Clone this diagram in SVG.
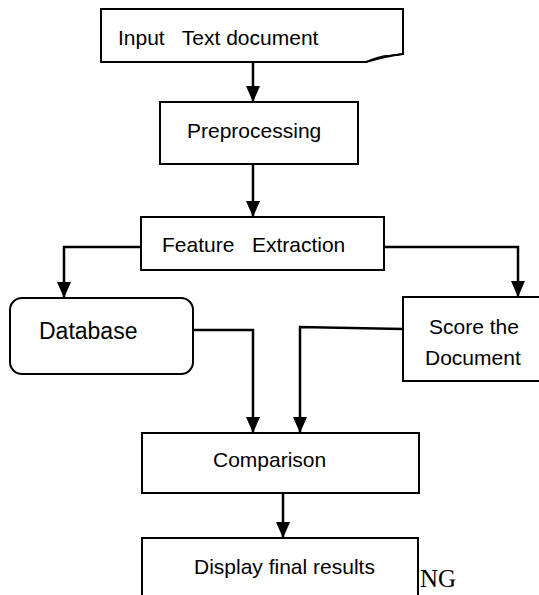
<svg xmlns="http://www.w3.org/2000/svg" width="539" height="595" viewBox="0 0 539 595">
<style>
.box{fill:#fff;stroke:#000;stroke-width:2}
.t{font-family:"Liberation Sans",Arial,sans-serif;font-size:21px;fill:#000;white-space:pre}
.c{fill:none;stroke:#000;stroke-width:2.5}
</style>
<defs>
<marker id="ah" markerUnits="userSpaceOnUse" markerWidth="16" markerHeight="14" refX="16" refY="7" orient="auto" viewBox="0 0 16 14">
<path d="M0,0 L16,7 L0,14 Z" fill="#000"/>
</marker>
</defs>
<rect width="539" height="595" fill="#fff"/>
<g id="connectors">
<line class="c" x1="253" y1="62" x2="253" y2="102" marker-end="url(#ah)"/>
<line class="c" x1="253" y1="164" x2="253" y2="217" marker-end="url(#ah)"/>
<polyline class="c" points="141,247 64,247 64,298" marker-end="url(#ah)"/>
<polyline class="c" points="384,247 518,247 518,297" marker-end="url(#ah)"/>
<polyline class="c" points="193,330 253,330 253,433" marker-end="url(#ah)"/>
<polyline class="c" points="403,329 300,327 300,433" marker-end="url(#ah)"/>
<line class="c" x1="283" y1="493" x2="283" y2="538" marker-end="url(#ah)"/>
</g>
<g id="input">
<path class="box" d="M101,9 H403 V54 Q386,56 366,62 H101 Z"/>
<path d="M366,62 Q378,56 390,55.5 Q397,55 403,54" fill="none" stroke="#000" stroke-width="1.5"/>
<text class="t" x="118" y="45">Input   Text document</text>
</g>
<g id="preprocessing">
<rect class="box" x="160" y="102" width="198" height="62"/>
<text class="t" x="187" y="138">Preprocessing</text>
</g>
<g id="feature">
<rect class="box" x="141" y="217" width="243" height="53"/>
<text class="t" x="162" y="252">Feature   Extraction</text>
</g>
<g id="database">
<rect class="box" x="10" y="298" width="183" height="76" rx="12" ry="12"/>
<text class="t" x="39" y="339" style="font-size:23px">Database</text>
</g>
<g id="score">
<rect class="box" x="403" y="297" width="150" height="84"/>
<text class="t" x="429" y="334">Score the</text>
<text class="t" x="425" y="365">Document</text>
</g>
<g id="comparison">
<rect class="box" x="142" y="433" width="277" height="60"/>
<text class="t" x="213" y="467">Comparison</text>
</g>
<g id="display">
<rect class="box" x="142" y="538" width="276" height="70"/>
<text class="t" x="194" y="574">Display final results</text>
</g>
<text x="420" y="587" style="font-family:'Liberation Serif','Times New Roman',serif;font-size:25px">NG</text>
</svg>
